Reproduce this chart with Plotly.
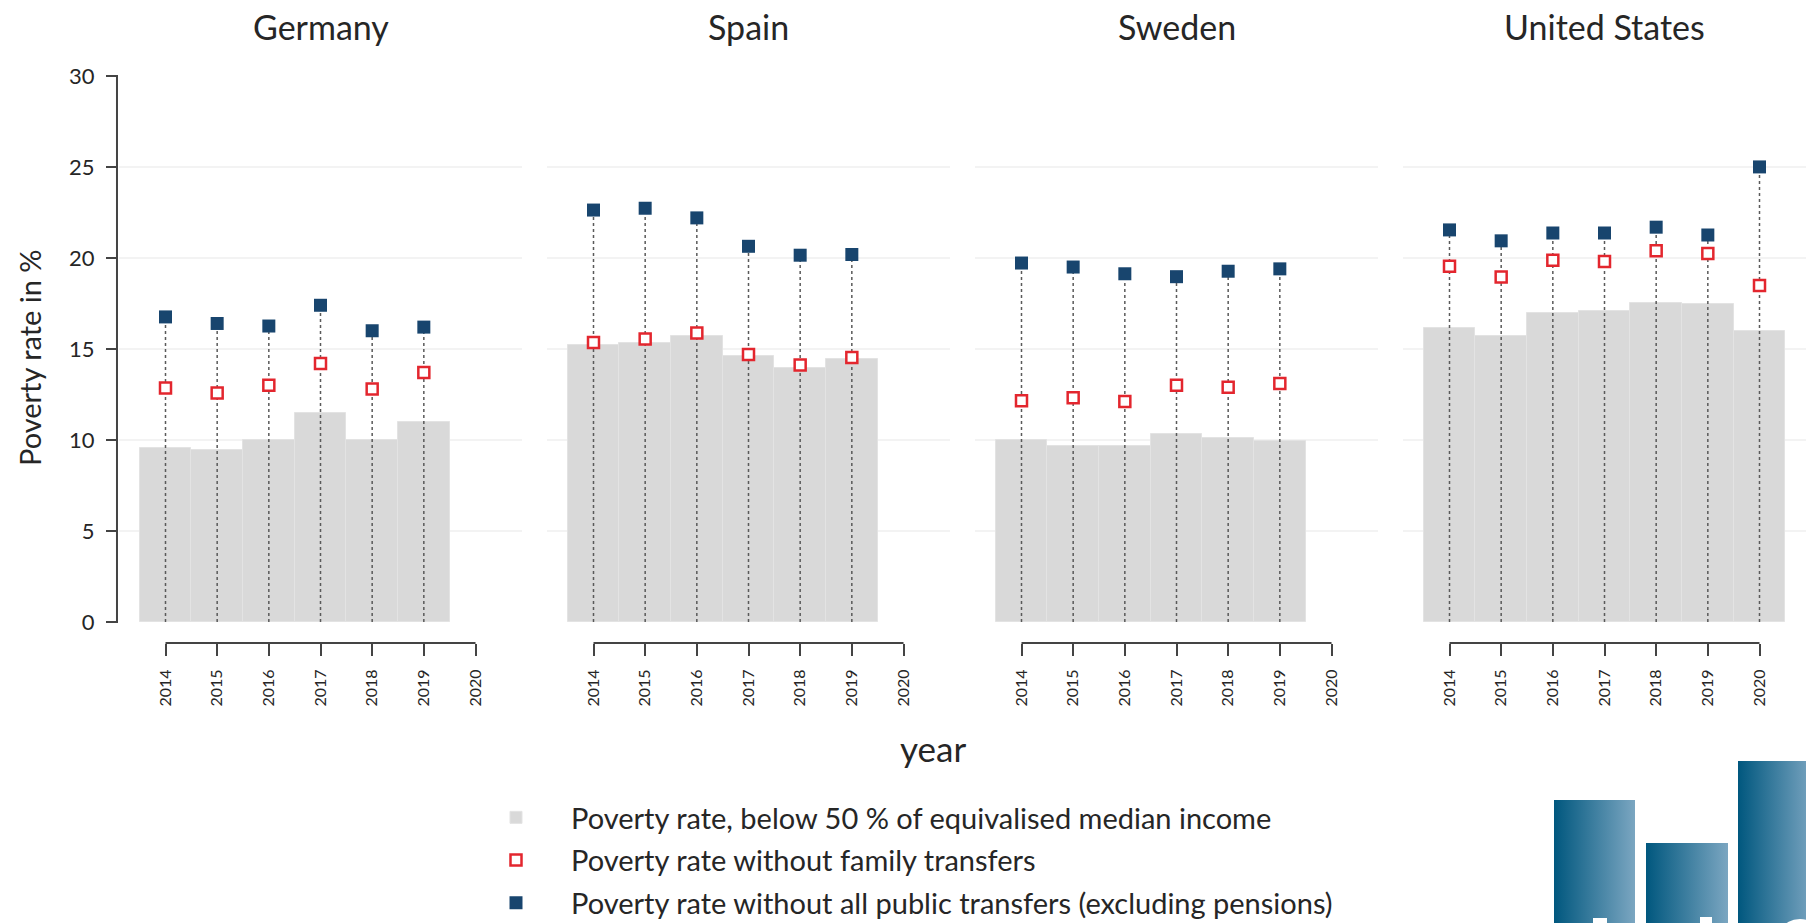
import base64
import plotly.graph_objects as go

# ---------------- data ----------------
countries = ["Germany", "Spain", "Sweden", "United States"]
tick_years = [2014, 2015, 2016, 2017, 2018, 2019, 2020]
tick_labels = ["2014", "2015", "2016", "2017", "2018", "2019", "2020"]

years_de = [2014, 2015, 2016, 2017, 2018, 2019]
years_es = [2014, 2015, 2016, 2017, 2018, 2019]
years_se = [2014, 2015, 2016, 2017, 2018, 2019]
years_us = [2014, 2015, 2016, 2017, 2018, 2019, 2020]

# Poverty rate, below 50 % of equivalised median income (bars)
pov_de = [9.55, 9.45, 10.0, 11.5, 10.0, 11.0]
pov_es = [15.2, 15.3, 15.7, 14.6, 13.95, 14.45]
pov_se = [10.0, 9.65, 9.65, 10.35, 10.1, 9.95]
pov_us = [16.15, 15.7, 16.97, 17.07, 17.52, 17.48, 15.98]

# Poverty rate without family transfers (red hollow squares)
fam_de = [12.86, 12.58, 13.0, 14.2, 12.8, 13.7]
fam_es = [15.35, 15.55, 15.88, 14.7, 14.12, 14.53]
fam_se = [12.16, 12.32, 12.12, 13.0, 12.9, 13.1]
fam_us = [19.55, 18.95, 19.87, 19.8, 20.4, 20.24, 18.48]

# Poverty rate without all public transfers (excluding pensions) (blue squares)
pub_de = [16.76, 16.4, 16.26, 17.4, 16.0, 16.2]
pub_es = [22.63, 22.73, 22.2, 20.64, 20.15, 20.19]
pub_se = [19.72, 19.5, 19.13, 18.97, 19.27, 19.4]
pub_us = [21.54, 20.94, 21.37, 21.37, 21.69, 21.26, 25.0]

y_ticks = [0, 5, 10, 15, 20, 25, 30]
grid_vals = [5, 10, 15, 20, 25]

series_names = [
    "Poverty rate, below 50 % of equivalised median income",
    "Poverty rate without family transfers",
    "Poverty rate without all public transfers (excluding pensions)",
]

panels = [
    (years_de, pov_de, fam_de, pub_de),
    (years_es, pov_es, fam_es, pub_es),
    (years_se, pov_se, fam_se, pub_se),
    (years_us, pov_us, fam_us, pub_us),
]

# ---------------- style ----------------
FONT = "Lato, 'Open Sans', sans-serif"
BAR_COL = "#d9d9d9"
RED = "#e3262e"
BLUE = "#18456e"
AXIS_COL = "#444444"
TEXT_COL = "#262626"
GRID_COL = "#efefef"

W, H = 1806, 923
ML, MR, MT, MB = 119, 0, 75, 280
plot_w = W - ML - MR
plot_h = H - MT - MB
panel_w = 403
gap = (plot_w - 4 * panel_w) / 3

def px2paper_x(px):
    return (px - ML) / plot_w

def px2paper_y(py):
    return (H - MB - py) / plot_h

fig = go.Figure()

domains = []
for i in range(4):
    x0 = (i * (panel_w + gap)) / plot_w
    x1 = (i * (panel_w + gap) + panel_w) / plot_w
    domains.append([x0, min(x1, 1.0)])

def axn(i):
    return "" if i == 0 else str(i + 1)

# bars
for i, (yrs, pov, fam, pub) in enumerate(panels):
    fig.add_trace(go.Bar(
        x=yrs, y=pov, width=1.0,
        marker=dict(color=BAR_COL, line=dict(color="#e3e3e3", width=1)),
        name=series_names[0], legendgroup="g1", showlegend=(i == 0),
        xaxis="x" + axn(i), yaxis="y" + axn(i),
    ))

# dotted droplines from 0 up to the blue marker
for i, (yrs, pov, fam, pub) in enumerate(panels):
    lx, ly = [], []
    for yr, v in zip(yrs, pub):
        lx += [yr, yr, None]
        ly += [0, v, None]
    fig.add_trace(go.Scatter(
        x=lx, y=ly, mode="lines",
        line=dict(color="#5a5a5a", width=1.5, dash="dot"),
        showlegend=False, hoverinfo="skip",
        xaxis="x" + axn(i), yaxis="y" + axn(i),
    ))

# red hollow squares
for i, (yrs, pov, fam, pub) in enumerate(panels):
    fig.add_trace(go.Scatter(
        x=yrs, y=fam, mode="markers",
        marker=dict(symbol="square", size=11, color="white",
                    line=dict(color=RED, width=2.5)),
        name=series_names[1], legendgroup="g2", showlegend=(i == 0),
        xaxis="x" + axn(i), yaxis="y" + axn(i),
    ))

# blue filled squares
for i, (yrs, pov, fam, pub) in enumerate(panels):
    fig.add_trace(go.Scatter(
        x=yrs, y=pub, mode="markers",
        marker=dict(symbol="square", size=13, color=BLUE,
                    line=dict(color=BLUE, width=0)),
        name=series_names[2], legendgroup="g3", showlegend=(i == 0),
        xaxis="x" + axn(i), yaxis="y" + axn(i),
    ))

layout = dict(
    width=W, height=H,
    margin=dict(l=ML, r=MR, t=MT, b=MB, pad=0, autoexpand=False),
    paper_bgcolor="white", plot_bgcolor="white",
    font=dict(family=FONT, color=TEXT_COL),
    barmode="overlay", bargap=0,
    showlegend=True,
    legend=dict(
        orientation="v", x=px2paper_x(461), y=px2paper_y(792),
        xanchor="left", yanchor="top",
        font=dict(size=29, family=FONT, color=TEXT_COL),
        bgcolor="rgba(0,0,0,0)", itemwidth=100, tracegroupgap=2,
        traceorder="grouped",
    ),
)

shapes = []
annotations = []
for i in range(4):
    n = axn(i)
    layout["xaxis" + n] = dict(
        domain=domains[i], anchor="y" + n,
        range=[2013.1, 2020.9],
        tickmode="array", tickvals=tick_years, ticktext=tick_labels,
        tickangle=-90, ticks="outside", ticklen=12, tickwidth=2,
        tickcolor=AXIS_COL, tickfont=dict(size=16, family=FONT, color=TEXT_COL),
        ticklabelstandoff=7,
        showgrid=False, zeroline=False, showline=False, fixedrange=True,
    )
    ycfg = dict(
        domain=[0, 1], anchor="x" + n,
        range=[-1.154, 30.05],
        showgrid=False, zeroline=False, showline=False, fixedrange=True,
    )
    if i == 0:
        ycfg.update(
            tickmode="array", tickvals=y_ticks,
            ticktext=[str(v) for v in y_ticks],
            ticks="outside", ticklen=12, tickwidth=2, tickcolor=AXIS_COL,
            tickfont=dict(size=22, family=FONT, color=TEXT_COL),
            ticklabelstandoff=7,
        )
    else:
        ycfg.update(showticklabels=False, ticks="")
    layout["yaxis" + n] = ycfg

    # gridlines
    for g in grid_vals:
        shapes.append(dict(
            type="line", xref="x" + n + " domain", yref="y" + n,
            x0=0, x1=1, y0=g, y1=g, layer="below",
            line=dict(color=GRID_COL, width=1.5),
        ))
    # x axis line spanning first to last tick
    shapes.append(dict(
        type="line", xref="x" + n, yref="y" + n + " domain",
        x0=tick_years[0], x1=tick_years[-1], y0=0, y1=0,
        line=dict(color=AXIS_COL, width=2),
    ))
    # panel title
    annotations.append(dict(
        text=countries[i], xref="paper", yref="paper",
        x=(domains[i][0] + domains[i][1]) / 2, y=px2paper_y(27),
        xanchor="center", yanchor="middle", showarrow=False,
        font=dict(size=34, family=FONT, color=TEXT_COL),
    ))

# y axis line (0 to 30) on first panel
shapes.append(dict(
    type="line", xref="x domain", yref="y",
    x0=-0.005, x1=-0.005, y0=y_ticks[0], y1=y_ticks[-1],
    line=dict(color=AXIS_COL, width=2),
))

annotations.append(dict(
    text="Poverty rate in %", xref="paper", yref="paper",
    x=px2paper_x(30), y=px2paper_y(358), textangle=-90,
    xanchor="center", yanchor="middle", showarrow=False,
    font=dict(size=29, family=FONT, color=TEXT_COL),
))
annotations.append(dict(
    text="year", xref="paper", yref="paper",
    x=px2paper_x(933), y=px2paper_y(748),
    xanchor="center", yanchor="middle", showarrow=False,
    font=dict(size=35, family=FONT, color=TEXT_COL),
))

layout["shapes"] = shapes
layout["annotations"] = annotations

# decorative logo fragment at the bottom right (gradient bars)
svg = (
    '<svg xmlns="http://www.w3.org/2000/svg" width="252" height="162" '
    'viewBox="0 0 252 162" preserveAspectRatio="none">'
    '<defs><linearGradient id="g" x1="0" y1="0" x2="1" y2="0">'
    '<stop offset="0" stop-color="#00577e"/>'
    '<stop offset="1" stop-color="#7ba6c1"/></linearGradient>'
    '<linearGradient id="g3" x1="0" y1="0" x2="1" y2="0">'
    '<stop offset="0" stop-color="#00577e"/>'
    '<stop offset="1" stop-color="#6e9dba"/></linearGradient></defs>'
    '<rect x="0" y="39" width="81" height="123" fill="url(#g)"/>'
    '<rect x="92" y="82" width="82" height="80" fill="url(#g)"/>'
    '<rect x="184" y="0" width="68" height="162" fill="url(#g3)"/>'
    '<rect x="39" y="157" width="14" height="5" fill="white"/>'
    '<rect x="146" y="156" width="12" height="6" fill="white"/>'
    '<ellipse cx="246" cy="167" rx="16" ry="9" fill="white"/>'
    '</svg>'
)
src = "data:image/svg+xml;base64," + base64.b64encode(svg.encode()).decode()
layout["images"] = [dict(
    source=src, xref="paper", yref="paper",
    x=px2paper_x(1554), y=px2paper_y(761),
    sizex=252 / plot_w, sizey=162 / plot_h,
    xanchor="left", yanchor="top", sizing="stretch", layer="above",
)]

fig.update_layout(**layout)

fig.write_html("out.html", config={"displayModeBar": False},
               post_script="document.body.style.margin='0';document.body.style.overflow='hidden';")
